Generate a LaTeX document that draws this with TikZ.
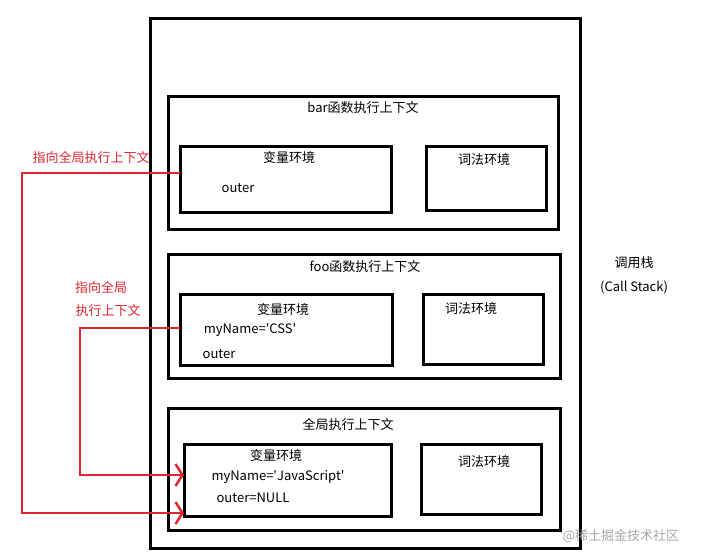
\documentclass[tikz,border=0pt]{standalone}
\usepackage{fontspec}
\setmainfont{Noto Sans CJK SC}
\usepackage{tikz}
\usetikzlibrary{arrows.meta, calc}
\definecolor{ptrred}{RGB}{222,38,48}

\begin{document}
\begin{tikzpicture}[
  x=1pt, y=-1pt,
  txt/.style      = {font=\fontsize{13}{15}\selectfont, inner sep=0pt},
  stackBox/.style = {rectangle, draw=black, line width=3pt, inner sep=0pt, outer sep=0pt},
  ctxBox/.style   = {rectangle, draw=black, line width=3pt, inner sep=0pt, outer sep=0pt},
  envBox/.style   = {rectangle, draw=black, line width=3pt, inner sep=0pt, outer sep=0pt},
  ptrlbl/.style   = {txt, color=ptrred},
  ptr/.style      = {-{Straight Barb[length=7pt, width=22pt, line width=2.5pt]}, line width=2.5pt, color=ptrred},
]
\useasboundingbox (0,0) rectangle (703,558);

%% Call stack
\node[stackBox, minimum width=430, minimum height=530] (stack) at (365,283) {};
\node[txt] (stackT1) at (634,263) {调用栈};
\node[txt] (stackT2) at (634,287) {(Call Stack)};

%% bar context
\node[ctxBox, minimum width=390, minimum height=133] (bar) at (363,162.5) {};
\node[txt] (barT) at (363,108) {bar函数执行上下文};
\node[envBox, minimum width=211, minimum height=66] (barVar) at (285.5,179) {};
\node[envBox, minimum width=120, minimum height=64] (barLex) at (486,178) {};
\node[txt] (barVarT) at (289,158) {变量环境};
\node[txt] (barOuter) at (238,188) {outer};
\node[txt] (barLexT) at (484,160) {词法环境};

%% foo context
\node[ctxBox, minimum width=392, minimum height=124] (foo) at (364,316) {};
\node[txt] (fooT) at (365,267) {foo函数执行上下文};
\node[envBox, minimum width=212, minimum height=71] (fooVar) at (286,329.5) {};
\node[envBox, minimum width=120, minimum height=70] (fooLex) at (483,329) {};
\node[txt] (fooVarT) at (283,310) {变量环境};
\node[txt] (fooName) at (250,330) {myName=\textquotesingle CSS\textquotesingle};
\node[txt] (fooOuter) at (219,354) {outer};
\node[txt] (fooLexT) at (471,309) {词法环境};

%% global context
\node[ctxBox, minimum width=392, minimum height=122] (glob) at (364,469) {};
\node[txt] (globT) at (348,424) {全局执行上下文};
\node[envBox, minimum width=207, minimum height=72] (globVar) at (287.5,480) {};
\node[envBox, minimum width=120, minimum height=70] (globLex) at (481,479) {};
\node[txt] (globVarT) at (276,456) {变量环境};
\node[txt] (globName) at (278,477) {myName=\textquotesingle JavaScript\textquotesingle};
\node[txt] (globOuter) at (253,498) {outer=NULL};
\node[txt] (globLexT) at (484,462) {词法环境};

%% outer pointers
\node[ptrlbl] (barPtrT) at (91,157) {指向全局执行上下文};
\node[ptrlbl] (fooPtrT1) at (101,287) {指向全局};
\node[ptrlbl] (fooPtrT2) at (108,311) {执行上下文};
\coordinate (outBar) at ($(barVar.west)+(0,-6)$);
\coordinate (outFoo) at ($(fooVar.west)+(0,-1.5)$);
\coordinate (inFoo) at (184,475);
\coordinate (inBar) at (184,513);
\draw[ptr] (outFoo) -- (80,328) |- (inFoo);
\draw[ptr] (outBar) -- (22,173) |- (inBar);

\node[txt, color=black!35] (mark) at (621,536) {\symbol{64}稀土掘金技术社区};
\end{tikzpicture}
\end{document}
